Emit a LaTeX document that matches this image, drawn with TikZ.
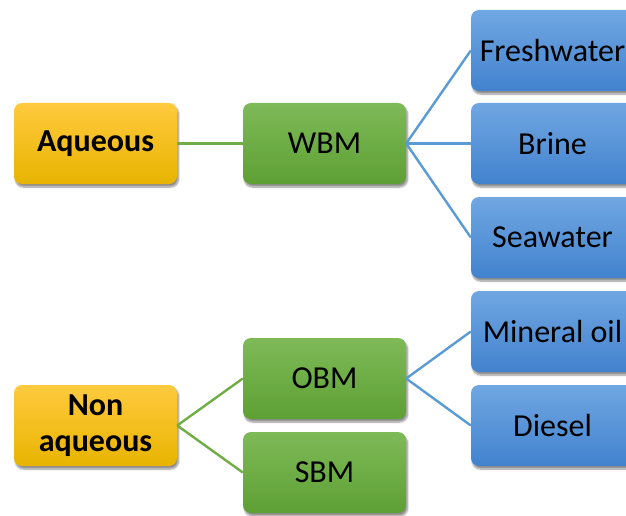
\documentclass[tikz,border=0pt]{standalone}
\usepackage{fontspec}
\setmainfont{Carlito}
\usepackage{xcolor}
\usetikzlibrary{shadows,shadows.blur,positioning}
\definecolor{goldtop}{RGB}{255,202,62}
\definecolor{goldbot}{RGB}{232,180,0}
\definecolor{greentop}{RGB}{126,186,88}
\definecolor{greenbot}{RGB}{94,160,52}
\definecolor{bluetop}{RGB}{112,167,226}
\definecolor{bluebot}{RGB}{66,130,206}
\definecolor{greenline}{RGB}{112,173,71}
\definecolor{blueline}{RGB}{91,155,213}

\begin{document}
\begin{tikzpicture}[x=1pt,y=1pt,
	box/.style={rounded corners=8pt, minimum width=163pt, minimum height=81pt,
		inner sep=0pt, align=center, font=\fontsize{32}{36}\selectfont,
		blur shadow={shadow xshift=1.5pt, shadow yshift=-3pt, shadow opacity=45, shadow blur steps=6}},
	goldbox/.style={box, top color=goldtop, bottom color=goldbot, font=\fontsize{32}{36}\selectfont\bfseries},
	greenbox/.style={box, top color=greentop, bottom color=greenbot},
	bluebox/.style={box, top color=bluetop, bottom color=bluebot},
	gline/.style={greenline, line width=2.4pt},
	bline/.style={blueline, line width=2.4pt}]

	\useasboundingbox (0,0) rectangle (626,-516);

	% water based
	\node[goldbox] (aq) at (95.5,-143.5) {Aqueous};
	\node[greenbox] (wbm) at (324.5,-143.5) {WBM};
	\node[bluebox] (fresh) at (552.5,-50.5) {Freshwater};
	\node[bluebox] (brine) at (552.5,-143.5) {Brine};
	\node[bluebox] (sea) at (552.5,-237.5) {Seawater};

	% oil and synthetic based
	\node[goldbox] (nonaq) at (95.5,-425.5) {Non\\aqueous};
	\node[greenbox] (obm) at (324.5,-378.5) {OBM};
	\node[greenbox] (sbm) at (324.5,-472.5) {SBM};
	\node[bluebox] (mineral) at (552.5,-331.5) {Mineral oil};
	\node[bluebox] (diesel) at (552.5,-425.5) {Diesel};

	\draw[gline] (aq.east) -- (wbm.west);
	\draw[gline] (nonaq.east) -- (obm.west);
	\draw[gline] (nonaq.east) -- (sbm.west);
	\foreach \t in {fresh,brine,sea}
		\draw[bline] (wbm.east) -- (\t.west);
	\foreach \t in {mineral,diesel}
		\draw[bline] (obm.east) -- (\t.west);

\end{tikzpicture}
\end{document}
